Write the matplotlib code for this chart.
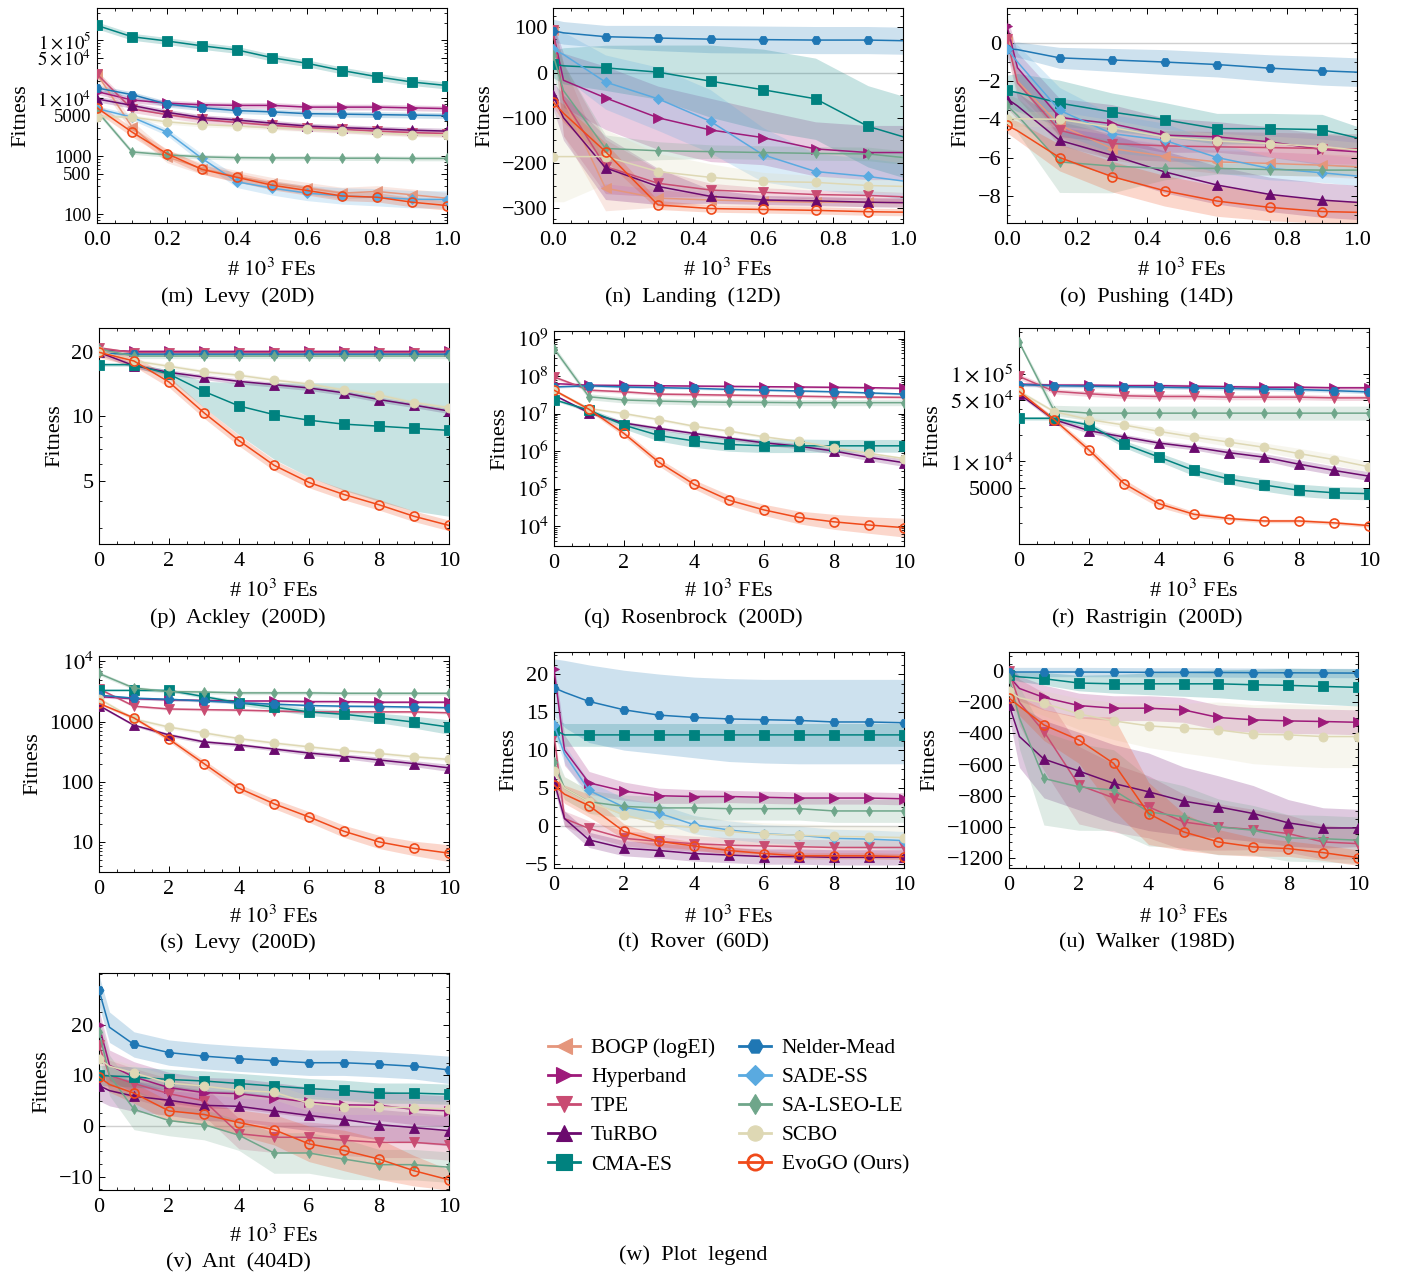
import numpy as np
import matplotlib
matplotlib.use("Agg")
import matplotlib.pyplot as plt
from matplotlib.ticker import (FixedLocator, FixedFormatter, LogLocator, NullFormatter,
                               AutoMinorLocator, FormatStrFormatter)
from matplotlib.lines import Line2D

# ----------------------------------------------------------------- methods
METHODS = ["BOGP (logEI)", "Hyperband", "TPE", "TuRBO", "CMA-ES",
           "Nelder-Mead", "SADE-SS", "SA-LSEO-LE", "SCBO", "EvoGO (Ours)"]
COLORS = ["#E5967C", "#9E1A7A", "#C94C72", "#6B0A6E", "#00827F",
          "#1F77B4", "#5AAAE0", "#6FA68A", "#DED8B4", "#F04A1A"]
MARKERS = ["<", ">", "v", "^", "s", "H", "D", "d", "o", "o"]

# ----------------------------------------------------------------- (m) Levy 20D
levy20_x = [0.0, 0.1, 0.2, 0.3, 0.4, 0.5, 0.6, 0.7, 0.8, 0.9, 1.0]
levy20_mean = {
    "BOGP (logEI)": [2.6e4, 3.2e3, 970, 610, 445, 340, 280, 230, 245, 215, 187],
    "Hyperband": [1.3e4, 9.3e3, 8.2e3, 7.7e3, 7.5e3, 7.5e3, 7.0e3, 7.0e3, 7.0e3, 6.8e3, 6.6e3],
    "TPE": [2.6e4, 6.5e3, 5.2e3, 4.3e3, 3.8e3, 3.4e3, 3.1e3, 2.9e3, 2.7e3, 2.55e3, 2.45e3],
    "TuRBO": [9.7e3, 7.5e3, 5.7e3, 4.6e3, 4.2e3, 3.7e3, 3.3e3, 3.1e3, 2.95e3, 2.8e3, 2.7e3],
    "CMA-ES": [1.8e5, 1.15e5, 9.7e4, 8.0e4, 6.8e4, 5.0e4, 4.0e4, 3.0e4, 2.35e4, 1.9e4, 1.65e4],
    "Nelder-Mead": [1.5e4, 1.15e4, 7.9e3, 6.8e3, 6.1e3, 5.8e3, 5.4e3, 5.3e3, 5.2e3, 5.1e3, 5.0e3],
    "SADE-SS": [6.6e3, 4.7e3, 2.6e3, 910, 360, 280, 230, 205, 195, 180, 178],
    "SA-LSEO-LE": [6.0e3, 1.18e3, 1.05e3, 970, 940, 930, 930, 920, 920, 910, 910],
    "SCBO": [4.8e3, 4.7e3, 3.9e3, 3.5e3, 3.3e3, 3.1e3, 2.9e3, 2.7e3, 2.5e3, 2.35e3, 2.3e3],
    "EvoGO (Ours)": [6.8e3, 2.6e3, 1.1e3, 590, 430, 315, 255, 205, 195, 160, 140],
}
levy20_band = {
    "BOGP (logEI)": 0.1, "Hyperband": 0.05, "TPE": 0.06, "TuRBO": 0.05, "CMA-ES": 0.06,
    "Nelder-Mead": 0.05, "SADE-SS": [0.05, 0.05, 0.06, 0.08, 0.1, 0.12, 0.13, 0.14, 0.15, 0.15, 0.15],
    "SA-LSEO-LE": 0.04, "SCBO": 0.04, "EvoGO (Ours)": 0.08,
}

# ----------------------------------------------------------------- (n) Landing 12D
landing_x = [0.0, 0.03, 0.15, 0.3, 0.45, 0.6, 0.75, 0.9, 1.0]
landing_mean = {
    "BOGP (logEI)": [95, -60, -256, -278, -282, -285, -287, -287, -288],
    "Hyperband": [90, -17, -56, -100, -127, -144, -169, -177, -177],
    "TPE": [95, -60, -208, -245, -260, -265, -270, -272, -275],
    "TuRBO": [-50, -100, -211, -252, -274, -282, -284, -287, -288],
    "CMA-ES": [19, 15, 10.5, 1, -19, -38, -58, -119, -142],
    "Nelder-Mead": [93, 88, 79.5, 76.5, 74, 73, 72, 72, 70.6],
    "SADE-SS": [52, 40, -21, -58, -108, -182, -219, -230, -240],
    "SA-LSEO-LE": [40, -40, -168, -173, -175, -177, -179, -180, -188],
    "SCBO": [-186, -186, -186, -219, -232, -241, -243, -250, -252],
    "EvoGO (Ours)": [-65, -90, -175, -293, -301, -303, -305, -308, -309],
}
landing_band = {
    "BOGP (logEI)": [20, 80, 50, 20, 10, 10, 10, 10, 10],
    "Hyperband": [20, 60, 70, 70, 70, 60, 60, 60, 60],
    "TPE": [20, 80, 60, 30, 15, 10, 10, 10, 10],
    "TuRBO": [30, 50, 70, 40, 15, 10, 10, 10, 10],
    "CMA-ES": [30, 40, 50, 60, 80, 90, 90, 90, 90],
    "Nelder-Mead": [25, 25, 25, 28, 30, 30, 30, 30, 30],
    "SADE-SS": [40, 50, 60, 70, 70, 60, 40, 40, 40],
    "SA-LSEO-LE": [40, 60, 30, 20, 15, 15, 15, 15, 15],
    "SCBO": [100, 100, 60, 40, 30, 20, 15, 15, 15],
    "EvoGO (Ours)": [10, 20, 20, 10, 8, 8, 8, 8, 8],
}

# ----------------------------------------------------------------- (o) Pushing 14D
pushing_x = [0.0, 0.03, 0.15, 0.3, 0.45, 0.6, 0.75, 0.9, 1.0]
pushing_mean = {
    "BOGP (logEI)": [0.1, -2.0, -4.3, -5.53, -5.93, -6.23, -6.31, -6.4, -6.49],
    "Hyperband": [0.9, -1.3, -3.9, -4.23, -4.83, -4.92, -5.18, -5.58, -5.7],
    "TPE": [0.2, -2.1, -4.57, -5.27, -5.39, -5.44, -5.48, -5.53, -5.55],
    "TuRBO": [-2.92, -3.3, -5.1, -5.88, -6.75, -7.44, -7.93, -8.23, -8.35],
    "CMA-ES": [-2.49, -2.6, -3.15, -3.62, -4.02, -4.49, -4.49, -4.54, -4.97],
    "Nelder-Mead": [-0.3, -0.35, -0.78, -0.89, -1.0, -1.13, -1.32, -1.46, -1.53],
    "SADE-SS": [-0.3, -1.0, -3.53, -4.75, -5.1, -6.0, -6.57, -6.8, -6.97],
    "SA-LSEO-LE": [-3.27, -3.8, -6.23, -6.45, -6.57, -6.57, -6.63, -6.66, -6.66],
    "SCBO": [-3.97, -3.97, -4.0, -4.43, -4.92, -5.13, -5.27, -5.44, -5.6],
    "EvoGO (Ours)": [-4.31, -4.6, -6.0, -7.0, -7.74, -8.28, -8.61, -8.83, -8.87],
}
pushing_band = {
    "BOGP (logEI)": 0.6,
    "Hyperband": [0.5, 0.8, 1.0, 1.0, 0.9, 0.8, 0.8, 0.8, 0.8],
    "TPE": 0.8,
    "TuRBO": [0.5, 0.7, 1.0, 1.1, 1.1, 1.0, 0.9, 0.9, 0.9],
    "CMA-ES": [0.8, 1.0, 1.2, 1.0, 0.9, 0.8, 0.8, 0.8, 0.6],
    "Nelder-Mead": [0.3, 0.4, 0.55, 0.6, 0.65, 0.65, 0.7, 0.75, 0.75],
    "SADE-SS": [0.5, 0.9, 1.2, 1.0, 0.9, 0.8, 0.6, 0.5, 0.5],
    "SA-LSEO-LE": [0.6, 0.9, 1.6, 1.4, 0.6, 0.3, 0.3, 0.3, 0.3],
    "SCBO": 0.4,
    "EvoGO (Ours)": [0.4, 0.5, 0.7, 0.8, 0.8, 0.8, 0.7, 0.6, 0.6],
}

# ----------------------------------------------------------------- x grid for 200D-class runs
fe_x = [0, 1, 2, 3, 4, 5, 6, 7, 8, 9, 10]

# ----------------------------------------------------------------- (p) Ackley 200D
ackley_mean = {
    "Hyperband": [20.5, 20.2, 20.2, 20.2, 20.2, 20.2, 20.2, 20.2, 20.2, 20.2, 20.2],
    "TPE": [21.0, 19.9, 19.9, 19.9, 19.9, 19.9, 19.9, 19.9, 19.9, 19.9, 19.9],
    "TuRBO": [20.0, 17.3, 16.1, 15.3, 14.6, 14.1, 13.6, 12.9, 12.0, 11.3, 10.6],
    "CMA-ES": [17.5, 17.5, 15.8, 13.1, 11.2, 10.2, 9.6, 9.2, 9.0, 8.8, 8.6],
    "Nelder-Mead": [19.8, 19.6, 19.6, 19.6, 19.6, 19.6, 19.6, 19.6, 19.6, 19.6, 19.6],
    "SA-LSEO-LE": [20.7, 19.2, 19.2, 19.2, 19.2, 19.2, 19.2, 19.2, 19.2, 19.2, 19.2],
    "SCBO": [20.2, 18.2, 17.2, 16.2, 15.6, 14.8, 14.2, 13.3, 12.6, 11.6, 11.0],
    "EvoGO (Ours)": [20.0, 18.2, 14.5, 10.4, 7.7, 5.9, 4.9, 4.3, 3.85, 3.4, 3.08],
}
ackley_cma_low = [17.2, 17.2, 15.0, 11.0, 8.2, 6.3, 5.2, 4.5, 4.0, 3.6, 3.4]
ackley_cma_high = [17.8, 17.8, 16.5, 14.6, 14.4, 14.4, 14.4, 14.4, 14.4, 14.4, 14.4]
ackley_band = {
    "Hyperband": 0.005, "TPE": 0.006, "TuRBO": 0.012, "CMA-ES": (ackley_cma_low, ackley_cma_high),
    "Nelder-Mead": 0.006, "SA-LSEO-LE": 0.012, "SCBO": 0.01, "EvoGO (Ours)": 0.025,
}

# ----------------------------------------------------------------- (q) Rosenbrock 200D
rosen_mean = {
    "Hyperband": [6.3e7, 5.7e7, 5.6e7, 5.5e7, 5.4e7, 5.3e7, 5.2e7, 5.1e7, 5.0e7, 4.9e7, 4.7e7],
    "TPE": [9.5e7, 4.2e7, 3.8e7, 3.3e7, 3.2e7, 3.1e7, 3.0e7, 2.9e7, 2.8e7, 2.75e7, 2.7e7],
    "TuRBO": [3.1e7, 1.05e7, 5.6e6, 4.0e6, 2.95e6, 2.2e6, 1.66e6, 1.35e6, 1.0e6, 6.8e5, 4.9e5],
    "CMA-ES": [2.35e7, 1.23e7, 4.9e6, 2.6e6, 1.86e6, 1.5e6, 1.38e6, 1.38e6, 1.38e6, 1.38e6, 1.38e6],
    "Nelder-Mead": [5.1e7, 5.5e7, 5.1e7, 4.9e7, 4.7e7, 4.4e7, 4.2e7, 4.0e7, 3.8e7, 3.55e7, 3.3e7],
    "SA-LSEO-LE": [5.4e8, 2.8e7, 2.3e7, 2.15e7, 2.05e7, 2.0e7, 1.98e7, 1.95e7, 1.95e7, 1.95e7, 1.95e7],
    "SCBO": [4.2e7, 1.35e7, 1.0e7, 6.9e6, 4.6e6, 3.4e6, 2.4e6, 1.8e6, 1.23e6, 8.7e5, 6.3e5],
    "EvoGO (Ours)": [4.2e7, 1.3e7, 2.95e6, 5.0e5, 1.3e5, 4.9e4, 2.7e4, 1.7e4, 1.3e4, 1.07e4, 9.1e3],
}
rosen_band = {
    "Hyperband": 0.03, "TPE": 0.04, "TuRBO": [0.03, 0.04, 0.05, 0.05, 0.05, 0.05, 0.06, 0.07, 0.08, 0.09, 0.1],
    "CMA-ES": [0.03, 0.05, 0.1, 0.15, 0.17, 0.18, 0.18, 0.18, 0.17, 0.17, 0.17],
    "Nelder-Mead": 0.03, "SA-LSEO-LE": 0.08, "SCBO": 0.04,
    "EvoGO (Ours)": [0.03, 0.05, 0.08, 0.1, 0.12, 0.14, 0.15, 0.17, 0.2, 0.22, 0.25],
}

# ----------------------------------------------------------------- (r) Rastrigin 200D
rast_mean = {
    "Hyperband": [7.6e4, 7.4e4, 7.4e4, 7.3e4, 7.3e4, 7.2e4, 7.1e4, 7.0e4, 7.0e4, 6.9e4, 6.9e4],
    "TPE": [9.3e4, 6.3e4, 5.9e4, 5.6e4, 5.5e4, 5.5e4, 5.4e4, 5.4e4, 5.4e4, 5.3e4, 5.3e4],
    "TuRBO": [5.9e4, 3.0e4, 2.24e4, 1.9e4, 1.62e4, 1.45e4, 1.26e4, 1.12e4, 9.3e3, 7.9e3, 6.8e3],
    "CMA-ES": [3.1e4, 3.1e4, 2.6e4, 1.58e4, 1.12e4, 7.9e3, 6.3e3, 5.4e3, 4.7e3, 4.4e3, 4.3e3],
    "Nelder-Mead": [7.5e4, 7.3e4, 7.2e4, 7.1e4, 7.0e4, 6.9e4, 6.8e4, 6.7e4, 6.6e4, 6.4e4, 6.2e4],
    "SA-LSEO-LE": [2.3e5, 3.8e4, 3.55e4, 3.55e4, 3.55e4, 3.55e4, 3.55e4, 3.55e4, 3.55e4, 3.55e4, 3.55e4],
    "SCBO": [6.3e4, 3.7e4, 3.0e4, 2.6e4, 2.2e4, 1.9e4, 1.66e4, 1.45e4, 1.23e4, 1.05e4, 8.7e3],
    "EvoGO (Ours)": [6.3e4, 3.0e4, 1.35e4, 5.6e3, 3.3e3, 2.5e3, 2.24e3, 2.1e3, 2.1e3, 2.0e3, 1.86e3],
}
rast_band = {
    "Hyperband": 0.02, "TPE": 0.03, "TuRBO": [0.02, 0.03, 0.03, 0.03, 0.03, 0.03, 0.04, 0.04, 0.05, 0.05, 0.05],
    "CMA-ES": [0.02, 0.02, 0.03, 0.04, 0.05, 0.06, 0.06, 0.07, 0.07, 0.07, 0.07],
    "Nelder-Mead": 0.02, "SA-LSEO-LE": [0.02, 0.06, 0.08, 0.08, 0.08, 0.08, 0.08, 0.08, 0.08, 0.08, 0.08],
    "SCBO": [0.02, 0.02, 0.03, 0.03, 0.04, 0.04, 0.05, 0.05, 0.06, 0.06, 0.06],
    "EvoGO (Ours)": [0.02, 0.03, 0.04, 0.05, 0.04, 0.03, 0.02, 0.02, 0.02, 0.02, 0.02],
}

# ----------------------------------------------------------------- (s) Levy 200D
levy200_mean = {
    "Hyperband": [2.6e3, 2.4e3, 2.3e3, 2.25e3, 2.2e3, 2.2e3, 2.15e3, 2.15e3, 2.1e3, 2.1e3, 2.1e3],
    "TPE": [3.5e3, 1.8e3, 1.62e3, 1.58e3, 1.55e3, 1.5e3, 1.45e3, 1.45e3, 1.45e3, 1.45e3, 1.4e3],
    "TuRBO": [1.85e3, 870, 600, 460, 410, 350, 300, 265, 230, 200, 170],
    "CMA-ES": [3.3e3, 3.3e3, 3.3e3, 2.6e3, 2.05e3, 1.74e3, 1.45e3, 1.32e3, 1.15e3, 980, 810],
    "Nelder-Mead": [2.75e3, 2.45e3, 2.35e3, 2.2e3, 2.05e3, 1.95e3, 1.85e3, 1.8e3, 1.78e3, 1.74e3, 1.7e3],
    "SA-LSEO-LE": [6.3e3, 3.6e3, 3.15e3, 3.1e3, 3.0e3, 3.0e3, 3.0e3, 2.95e3, 2.95e3, 2.95e3, 2.95e3],
    "SCBO": [2.4e3, 1.1e3, 810, 650, 520, 440, 380, 330, 295, 260, 235],
    "EvoGO (Ours)": [2.0e3, 1.15e3, 510, 200, 78, 43, 26, 15, 10, 7.8, 6.5],
}
levy200_band = {
    "Hyperband": 0.02, "TPE": 0.02, "TuRBO": [0.02, 0.02, 0.03, 0.03, 0.03, 0.03, 0.04, 0.04, 0.05, 0.05, 0.06],
    "CMA-ES": [0.01, 0.01, 0.02, 0.03, 0.04, 0.05, 0.06, 0.07, 0.08, 0.1, 0.12],
    "Nelder-Mead": 0.02, "SA-LSEO-LE": 0.03, "SCBO": 0.03,
    "EvoGO (Ours)": [0.02, 0.03, 0.04, 0.06, 0.07, 0.08, 0.09, 0.1, 0.11, 0.12, 0.14],
}

# ----------------------------------------------------------------- (t) Rover 60D
early_x = [0, 0.3, 1, 2, 3, 4, 5, 6, 7, 8, 9, 10]
rover_mean = {
    "Hyperband": [20.6, 10.0, 5.7, 4.6, 4.0, 3.9, 3.9, 3.8, 3.7, 3.7, 3.7, 3.6],
    "TPE": [12.0, 1.0, -0.3, -1.6, -2.0, -2.3, -2.5, -2.6, -2.7, -2.8, -2.8, -2.8],
    "TuRBO": [5.9, 1.0, -1.8, -2.9, -3.2, -3.6, -3.8, -4.0, -4.0, -4.1, -4.1, -4.1],
    "CMA-ES": [12.7, 12.0, 12.0, 12.0, 12.0, 12.0, 12.0, 12.0, 12.0, 12.0, 12.0, 12.0],
    "Nelder-Mead": [18.2, 17.6, 16.4, 15.3, 14.6, 14.3, 14.1, 14.0, 13.9, 13.7, 13.7, 13.6],
    "SADE-SS": [13.3, 9.5, 4.7, 2.5, 1.7, 0.2, -0.5, -1.0, -1.2, -1.6, -1.7, -1.9],
    "SA-LSEO-LE": [8.5, 5.0, 3.2, 2.6, 2.4, 2.4, 2.3, 2.3, 2.3, 2.0, 2.0, 2.0],
    "SCBO": [7.2, 5.0, 3.2, 1.5, 0.3, -0.2, -0.7, -1.05, -1.2, -1.35, -1.4, -1.5],
    "EvoGO (Ours)": [5.4, 4.2, 2.7, -0.7, -2.0, -2.6, -3.2, -3.6, -3.9, -3.9, -3.9, -4.0],
}
rover_nm_low = [14.5, 13.0, 11.0, 10.0, 9.5, 9.0, 8.5, 8.3, 8.2, 8.2, 8.2, 8.2]
rover_nm_high = [22.0, 21.8, 21.2, 20.5, 20.0, 19.6, 19.4, 19.3, 19.3, 19.3, 19.3, 19.3]
rover_band = {
    "Hyperband": [1.0, 2.0, 1.5, 1.2, 1.0, 0.9, 0.8, 0.8, 0.8, 0.8, 0.8, 0.8],
    "TPE": 1.0, "TuRBO": 1.0, "CMA-ES": 1.5,
    "Nelder-Mead": (rover_nm_low, rover_nm_high),
    "SADE-SS": 1.2, "SA-LSEO-LE": 1.5, "SCBO": 1.5,
    "EvoGO (Ours)": [0.5, 1.2, 1.5, 1.0, 0.7, 0.5, 0.5, 0.4, 0.4, 0.4, 0.4, 0.4],
}

# ----------------------------------------------------------------- (u) Walker 198D
walker_mean = {
    "Hyperband": [-32, -110, -168, -220, -237, -237, -248, -297, -312, -319, -323, -328],
    "TPE": [0, -200, -388, -733, -815, -873, -970, -1002, -1019, -1045, -1099, -1110],
    "TuRBO": [-215, -420, -565, -642, -722, -776, -836, -873, -916, -976, -1009, -1009],
    "CMA-ES": [-22, -35, -47, -75, -80, -80, -80, -80, -86, -90, -97, -103],
    "Nelder-Mead": [-4, -4, -4, -4, -5, -6, -6, -7, -8, -9, -10, -11],
    "SA-LSEO-LE": [-43, -300, -690, -744, -765, -905, -937, -1002, -1024, -1073, -1078, -1088],
    "SCBO": [-129, -170, -205, -274, -319, -351, -366, -377, -405, -409, -420, -420],
    "EvoGO (Ours)": [-172, -225, -345, -442, -593, -916, -1034, -1099, -1131, -1142, -1168, -1200],
}
walker_band = {
    "Hyperband": 80, "Nelder-Mead": 30,
    "TPE": [50, 150, 250, 250, 220, 200, 180, 150, 130, 120, 110, 100],
    "TuRBO": [80, 200, 250, 250, 250, 250, 220, 200, 180, 150, 130, 120],
    "CMA-ES": [20, 30, 40, 50, 60, 70, 80, 90, 100, 110, 115, 120],
    "SA-LSEO-LE": [50, 200, 300, 280, 260, 220, 200, 180, 160, 150, 150, 150],
    "SCBO": [30, 60, 80, 100, 120, 140, 160, 180, 190, 200, 200, 200],
    "EvoGO (Ours)": [30, 60, 100, 150, 300, 200, 120, 80, 60, 50, 50, 50],
}

# ----------------------------------------------------------------- (v) Ant 404D
ant_mean = {
    "Hyperband": [19.9, 12.0, 9.7, 7.6, 6.6, 6.4, 5.6, 4.7, 4.2, 4.1, 3.3, 3.0],
    "TPE": [16.0, 10.0, 8.4, 6.4, 5.0, -1.5, -2.2, -2.2, -2.8, -3.2, -3.2, -3.7],
    "TuRBO": [8.0, 7.0, 5.9, 5.1, 4.1, 3.9, 3.0, 2.1, 1.3, 0.3, -0.3, -0.9],
    "CMA-ES": [10.0, 9.9, 9.7, 9.2, 8.9, 8.4, 7.9, 7.4, 7.05, 6.5, 6.5, 6.3],
    "Nelder-Mead": [26.8, 19.5, 16.1, 14.5, 13.8, 13.3, 12.9, 12.5, 12.5, 12.2, 11.8, 11.1],
    "SA-LSEO-LE": [18.6, 10.0, 3.3, 1.1, 0.3, -1.8, -5.3, -5.3, -6.5, -7.6, -7.6, -8.1],
    "SCBO": [13.3, 11.8, 10.5, 8.5, 7.9, 7.05, 6.7, 4.5, 3.8, 3.8, 3.6, 3.4],
    "EvoGO (Ours)": [9.7, 8.2, 6.5, 3.0, 2.3, 0.7, -0.7, -3.5, -4.8, -6.5, -8.8, -10.6],
}
ant_band = {
    "Hyperband": 3.0, "TPE": 3.0, "TuRBO": 3.0, "CMA-ES": 2.0, "SCBO": 1.5,
    "Nelder-Mead": [3.0, 3.0, 2.5, 2.5, 2.5, 2.5, 2.5, 2.5, 2.5, 2.5, 2.5, 2.7],
    "SA-LSEO-LE": [3, 4, 4, 3, 3, 3, 4, 4, 4, 3, 3, 3],
    "EvoGO (Ours)": [1.0, 1.5, 2.0, 2.0, 2.0, 2.5, 3.0, 3.5, 4.0, 4.0, 3.0, 2.0],
}

# ----------------------------------------------------------------- tick labels / captions
levy20_yticks = [100, 500, 1000, 5000, 1e4, 5e4, 1e5]
levy20_ylabels = ["100", "500", "1000", "5000", r"$1\times10^4$", r"$5\times10^4$", r"$1\times10^5$"]
ackley_yticks = [5, 10, 20]
ackley_ylabels = ["5", "10", "20"]
rosen_yticks = [1e4, 1e5, 1e6, 1e7, 1e8, 1e9]
rosen_ylabels = [r"$10^4$", r"$10^5$", r"$10^6$", r"$10^7$", r"$10^8$", r"$10^9$"]
rast_yticks = [5000, 1e4, 5e4, 1e5]
rast_ylabels = ["5000", r"$1\times10^4$", r"$5\times10^4$", r"$1\times10^5$"]
levy200_yticks = [10, 100, 1000, 1e4]
levy200_ylabels = ["10", "100", "1000", r"$10^4$"]

CAPTIONS = ["(m)  Levy  (20D)", "(n)  Landing  (12D)", "(o)  Pushing  (14D)",
            "(p)  Ackley  (200D)", "(q)  Rosenbrock  (200D)", "(r)  Rastrigin  (200D)",
            "(s)  Levy  (200D)", "(t)  Rover  (60D)", "(u)  Walker  (198D)",
            "(v)  Ant  (404D)"]
LEGEND_CAPTION = "(w)  Plot  legend"
XLABEL = r"# $10^3$ FEs"
YLABEL = "Fitness"

# ----------------------------------------------------------------- style
plt.rcParams.update({
    "font.family": "serif",
    "font.serif": ["Liberation Serif", "DejaVu Serif"],
    "mathtext.fontset": "stix",
    "font.size": 16,
    "axes.linewidth": 0.8,
    "xtick.direction": "in", "ytick.direction": "in",
    "xtick.top": True, "ytick.right": True,
    "xtick.major.size": 4, "ytick.major.size": 4,
    "xtick.minor.size": 2.2, "ytick.minor.size": 2.2,
    "xtick.major.width": 0.7, "ytick.major.width": 0.7,
    "xtick.minor.width": 0.6, "ytick.minor.width": 0.6,
    "xtick.major.pad": 6, "ytick.major.pad": 4,
    "axes.unicode_minus": True,
})

W, H = 1406, 1278
fig = plt.figure(figsize=(W / 100, H / 100), dpi=100)


def px_axes(x0, y0, x1, y1):
    return fig.add_axes([x0 / W, 1 - y1 / H, (x1 - x0) / W, (y1 - y0) / H])


# pixel boxes of each panel (layout)
BOXES = [(97, 8, 447, 223), (553, 8, 903, 223), (1007, 8, 1357, 223),
         (99, 328, 449, 544), (554, 331, 904, 546), (1019, 328, 1369, 544),
         (99, 656, 449, 872), (554, 652, 904, 868), (1009, 652, 1358, 868),
         (99, 973, 449, 1190)]
XLABEL_Y = [270, 270, 270, 591, 591, 591, 917, 917, 917, 1236]
CAPTION_Y = [297, 297, 297, 618, 618, 618, 943, 943, 943, 1263]
CAPTION_X = [238, 693, 1147, 238, 693, 1147, 238, 693, 1147, 238]

PANELS = [
    dict(x=levy20_x, mean=levy20_mean, band=levy20_band, log=True, ylim=(70, 3.6e5),
         xlim=(0, 1), marks="all", yticks=(levy20_yticks, levy20_ylabels), ysize=13.5),
    dict(x=landing_x, mean=landing_mean, band=landing_band, log=False, ylim=(-333, 143),
         xlim=(0, 1), marks=[0, 2, 3, 4, 5, 6, 7], yticks=([-300, -200, -100, 0, 100], None), zero=True),
    dict(x=pushing_x, mean=pushing_mean, band=pushing_band, log=False, ylim=(-9.43, 1.83),
         xlim=(0, 1), marks=[0, 2, 3, 4, 5, 6, 7], yticks=([-8, -6, -4, -2, 0], None), zero=True),
    dict(x=fe_x, mean=ackley_mean, band=ackley_band, log=True, ylim=(2.52, 26),
         xlim=(0, 10), marks="all", yticks=(ackley_yticks, ackley_ylabels)),
    dict(x=fe_x, mean=rosen_mean, band=rosen_band, log=True, ylim=(10 ** 3.47, 10 ** 9.2),
         xlim=(0, 10), marks="all", yticks=(rosen_yticks, rosen_ylabels)),
    dict(x=fe_x, mean=rast_mean, band=rast_band, log=True, ylim=(10 ** 3.06, 10 ** 5.52),
         xlim=(0, 10), marks="all", yticks=(rast_yticks, rast_ylabels)),
    dict(x=fe_x, mean=levy200_mean, band=levy200_band, log=True, ylim=(10 ** 0.5, 10 ** 4.09),
         xlim=(0, 10), marks="all", yticks=(levy200_yticks, levy200_ylabels)),
    dict(x=early_x, mean=rover_mean, band=rover_band, log=False, ylim=(-5.5, 22.9),
         xlim=(0, 10), marks=[0] + list(range(2, 12)), yticks=([-5, 0, 5, 10, 15, 20], None), zero=True),
    dict(x=early_x, mean=walker_mean, band=walker_band, log=False, ylim=(-1267, 125),
         xlim=(0, 10), marks=[0] + list(range(2, 12)),
         yticks=([-1200, -1000, -800, -600, -400, -200, 0], None)),
    dict(x=early_x, mean=ant_mean, band=ant_band, log=False, ylim=(-12.6, 30.2),
         xlim=(0, 10), marks=[0] + list(range(2, 12)), yticks=([-10, 0, 10, 20], None), zero=True),
]


def band_limits(y, spec, log):
    if isinstance(spec, tuple):
        return np.asarray(spec[0], float), np.asarray(spec[1], float)
    w = np.broadcast_to(np.asarray(spec, float), y.shape)
    if log:
        return y / 10 ** w, y * 10 ** w
    return y - w, y + w


for k, (p, box) in enumerate(zip(PANELS, BOXES)):
    ax = px_axes(*box)
    x = np.asarray(p["x"], float)
    if p["log"]:
        ax.set_yscale("log")
    if p.get("zero"):
        ax.axhline(0, color="#d0d0d0", lw=1.0, zorder=0.5)
    # bands first
    for m, c in zip(METHODS, COLORS):
        if m not in p["mean"]:
            continue
        y = np.asarray(p["mean"][m], float)
        lo, hi = band_limits(y, p["band"][m], p["log"])
        ax.fill_between(x, lo, hi, color=c, alpha=0.22, lw=0, zorder=1)
    marks = list(range(len(x))) if p["marks"] == "all" else p["marks"]
    for i, (m, c, mk) in enumerate(zip(METHODS, COLORS, MARKERS)):
        if m not in p["mean"]:
            continue
        y = np.asarray(p["mean"][m], float)
        hollow = m.startswith("EvoGO")
        ms = 6.5
        if mk == "d":
            ms = 5.5
        if mk == "D":
            ms = 5.0
        ax.plot(x, y, color=c, lw=1.1, marker=mk, markevery=marks, ms=ms,
                mfc="none" if hollow else c, mec=c, mew=1.2 if hollow else 0.6,
                zorder=3 + i)
    ax.set_xlim(*p["xlim"])
    ax.set_ylim(*p["ylim"])
    if p["xlim"][1] == 1:
        ax.xaxis.set_major_locator(FixedLocator([0, 0.2, 0.4, 0.6, 0.8, 1.0]))
        ax.xaxis.set_major_formatter(FormatStrFormatter("%.1f"))
    else:
        ax.xaxis.set_major_locator(FixedLocator([0, 2, 4, 6, 8, 10]))
    ax.xaxis.set_minor_locator(AutoMinorLocator(4))
    ticks, labels = p["yticks"]
    ax.yaxis.set_major_locator(FixedLocator(ticks))
    if labels is not None:
        ax.yaxis.set_major_formatter(FixedFormatter(labels))
    if p["log"]:
        ax.yaxis.set_minor_locator(LogLocator(base=10, subs=np.arange(2, 10), numticks=100))
        ax.yaxis.set_minor_formatter(NullFormatter())
    else:
        ax.yaxis.set_minor_locator(AutoMinorLocator(4))
    ax.tick_params(axis="x", labelsize=16)
    ax.tick_params(axis="y", labelsize=p.get("ysize", 16))
    ax.set_ylabel(YLABEL, fontsize=16, labelpad=5)
    x0, y0, x1, y1 = box
    ax.set_xlabel(XLABEL, fontsize=16, va="center")
    ax.xaxis.set_label_coords(0.5, -(XLABEL_Y[k] - y1) / (y1 - y0))
    fig.text(CAPTION_X[k] / W, 1 - CAPTION_Y[k] / H, CAPTIONS[k], ha="center", va="center", fontsize=16)

# ----------------------------------------------------------------- legend panel
handles = []
for m, c, mk in zip(METHODS, COLORS, MARKERS):
    hollow = m.startswith("EvoGO")
    ms = 11 if mk not in ("d", "D") else 10
    handles.append(Line2D([], [], color=c, lw=2.0, marker=mk, ms=ms,
                          mfc="none" if hollow else c, mec=c, mew=2.0 if hollow else 0.8))
fig.legend(handles, METHODS, ncol=2, loc="upper left",
           bbox_to_anchor=(548 / W, 1 - 1038 / H), bbox_transform=fig.transFigure,
           frameon=False, fontsize=15.5, handlelength=1.5, handletextpad=0.5,
           columnspacing=1.1, labelspacing=0.42, borderpad=0, borderaxespad=0)
fig.text(693 / W, 1 - 1255 / H, LEGEND_CAPTION, ha="center", va="center", fontsize=16)

fig.savefig("out.png", dpi=100)
